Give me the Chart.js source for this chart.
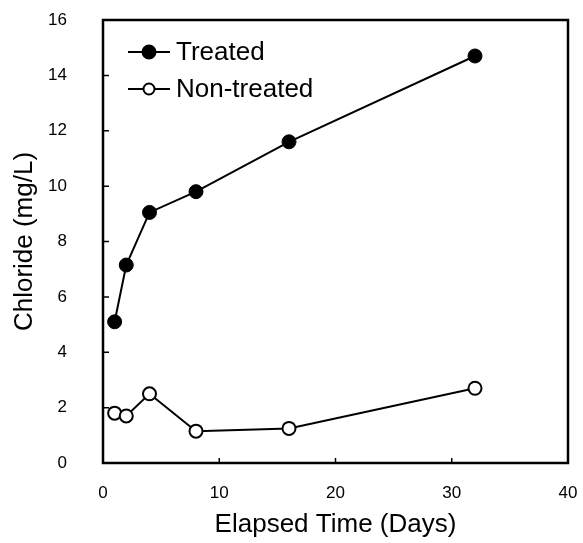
<!DOCTYPE html>
<html>
<head>
<meta charset="utf-8">
<script src="https://cdn.jsdelivr.net/npm/chart.js@4/dist/chart.umd.min.js"></script>
<style>
  html, body { margin: 0; padding: 0; background: #fff; }
  #wrap { width: 583px; height: 543px; position: relative; }
</style>
</head>
<body>
<div id="wrap"><canvas id="chart"></canvas></div>
<script>
// ── Data ─────────────────────────────
const DAYS        = [1, 2, 4, 8, 16, 32];
const TREATED     = [5.1, 7.15, 9.05, 9.8, 11.6, 14.7];
const NON_TREATED = [1.8, 1.7, 2.5, 1.15, 1.25, 2.7];
const SERIES_NAMES = ['Treated', 'Non-treated'];
const X_TICKS = [0, 10, 20, 30, 40];
const Y_TICKS = [0, 2, 4, 6, 8, 10, 12, 14, 16];

const FONT = '"Liberation Sans", Arial, sans-serif';

// frame + inward tick marks
const framePlugin = {
  id: 'frame',
  afterDraw(chart) {
    const { ctx, chartArea: a, scales } = chart;
    ctx.save();
    ctx.strokeStyle = '#000';
    ctx.lineWidth = 1.5;
    ctx.beginPath();
    scales.x.ticks.forEach(t => {
      const px = scales.x.getPixelForValue(t.value);
      ctx.moveTo(px, a.bottom);
      ctx.lineTo(px, a.bottom - 5);
    });
    scales.y.ticks.forEach(t => {
      const py = scales.y.getPixelForValue(t.value);
      ctx.moveTo(a.left, py);
      ctx.lineTo(a.left + 6, py);
    });
    ctx.stroke();
    ctx.lineWidth = 2.5;
    ctx.strokeRect(a.left, a.top, a.right - a.left, a.bottom - a.top);
    ctx.restore();
  },
};

// legend drawn inside the plot, line through marker
const insideLegend = {
  id: 'insideLegend',
  afterDraw(chart) {
    const { ctx } = chart;
    const rows = [{ y: 52, r: 6.5 }, { y: 89, r: 5.5 }];
    ctx.save();
    ctx.font = '26px ' + FONT;
    ctx.textBaseline = 'middle';
    chart.data.datasets.forEach((ds, i) => {
      const y = rows[i].y;
      ctx.strokeStyle = '#000';
      ctx.lineWidth = 2;
      ctx.beginPath();
      ctx.moveTo(128, y);
      ctx.lineTo(170, y);
      ctx.stroke();
      ctx.beginPath();
      ctx.arc(149, y, rows[i].r, 0, Math.PI * 2);
      ctx.fillStyle = ds.pointBackgroundColor;
      ctx.fill();
      ctx.stroke();
      ctx.fillStyle = '#000';
      ctx.fillText(ds.label, 176, y + 1);
    });
    ctx.restore();
  },
};

const toPts = ys => DAYS.map((d, i) => ({ x: d, y: ys[i] }));

new Chart(document.getElementById('chart'), {
  type: 'line',
  data: {
    datasets: [
      {
        label: SERIES_NAMES[0], data: toPts(TREATED),
        borderColor: '#000', borderWidth: 2,
        pointBackgroundColor: '#000', pointBorderColor: '#000',
        pointRadius: 7, pointBorderWidth: 1, tension: 0,
      },
      {
        label: SERIES_NAMES[1], data: toPts(NON_TREATED),
        borderColor: '#000', borderWidth: 2,
        pointBackgroundColor: '#fff', pointBorderColor: '#000',
        pointRadius: 6.5, pointBorderWidth: 2, tension: 0,
      },
    ],
  },
  options: {
    responsive: true,
    maintainAspectRatio: false,
    animation: false,
    layout: { padding: { top: 20, right: 15, left: 0, bottom: 0 } },
    plugins: { legend: { display: false }, tooltip: { enabled: false } },
    scales: {
      x: {
        type: 'linear', min: 0, max: 40,
        afterBuildTicks: s => { s.ticks = X_TICKS.map(v => ({ value: v })); },
        afterFit: s => { s.height = 80; s.paddingLeft = 0; s.paddingRight = 0; },
        grid: { display: false, drawTicks: false },
        border: { display: false },
        ticks: { color: '#000', padding: 20, font: { family: FONT, size: 17 } },
        title: { display: true, text: 'Elapsed Time (Days)', color: '#000',
                 padding: { top: 0, bottom: 3 }, font: { family: FONT, size: 26 } },
      },
      y: {
        min: 0, max: 16,
        afterBuildTicks: s => { s.ticks = Y_TICKS.map(v => ({ value: v })); },
        afterFit: s => { s.width = 103; s.paddingTop = 0; s.paddingBottom = 0; },
        grid: { display: false, drawTicks: false },
        border: { display: false },
        ticks: { color: '#000', padding: 36, font: { family: FONT, size: 17 } },
        title: { display: true, text: 'Chloride (mg/L)', color: '#000',
                 padding: { top: 9, bottom: 0 }, font: { family: FONT, size: 26 } },
      },
    },
  },
  plugins: [framePlugin, insideLegend],
});
</script>
</body>
</html>
